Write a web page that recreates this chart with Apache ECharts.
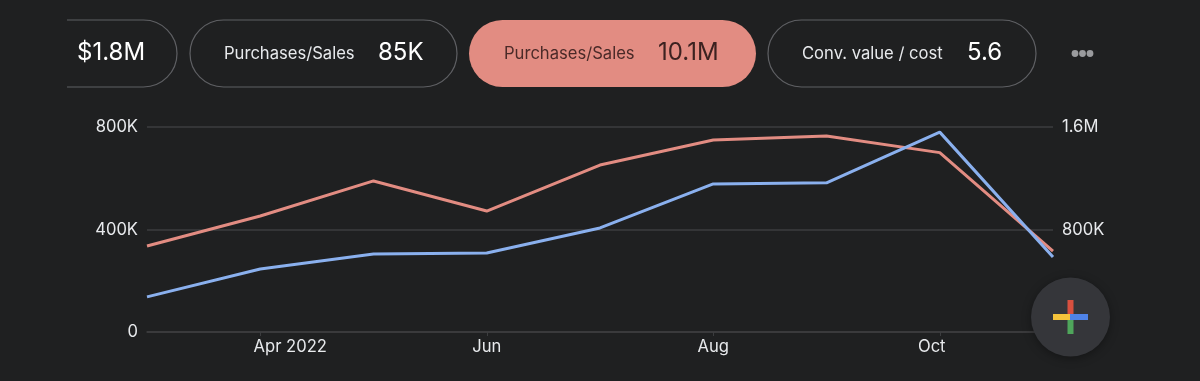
<!DOCTYPE html>
<html><head><meta charset="utf-8">
<style>html,body{margin:0;padding:0;background:#1f2021}#c{width:1200px;height:381px}</style>
<script src="https://cdn.jsdelivr.net/npm/echarts@6/dist/echarts.min.js"></script>
</head><body><div id="c"></div>
<script>
const categories=['Mar 2022','Apr 2022','May','Jun','Jul','Aug','Sep','Oct','Nov'];
const shownMonths=['Apr 2022','Jun','Aug','Oct'];
const leftSeriesBlue=[137000,246000,304000,308000,406000,578000,582000,780000,293000];
const rightSeriesRed=[671000,905000,1179000,944000,1303000,1498000,1530000,1400000,632000];
const leftTicks={0:'0',400000:'400K',800000:'800K'};
const rightTicks={800000:'800K',1600000:'1.6M'};
const chipLabels=['Purchases/Sales','Purchases/Sales','Conv. value / cost'];
const chipValues=['$1.8M','85K','10.1M','5.6'];

const BG='#1f2021',TXT='#e8eaed',BORDER='#5f6064',RED='#e28c82',BLUE='#8ab0ee',GRID='#3c3d3f',FONT='Inter, Roboto, sans-serif',AX=16.6,LB=16.6,VAL=24;
function t(x,y,text,size,fill,align){return {type:'text',x,y,z:10,style:{text,fontSize:size,fill,fontFamily:FONT,align:align||'left',verticalAlign:'middle'}};}
function chip(x,w,filled){return {type:'rect',z:5,shape:{x:x,y:20,width:w,height:67,r:33.5},style:filled?{fill:RED,stroke:null}:{fill:'transparent',stroke:BORDER,lineWidth:1.2}};}
function bar(x,y,w,h,c){return {type:'rect',z:21,shape:{x,y,width:w,height:h},style:{fill:c}};}
const graphic=[
 chip(-60,237,false),
 {type:'rect',z:6,shape:{x:0,y:10,width:67,height:90},style:{fill:BG}},
 chip(190,267,false),chip(469,287,true),chip(768,268,false),
 t(77,53,chipValues[0],VAL,'#ffffff'),
 t(224,54,chipLabels[0],LB,TXT),t(378,53,chipValues[1],VAL,'#ffffff'),
 t(504,54,chipLabels[1],LB,'#4a2a28'),t(658,53,chipValues[2],VAL,'#3c2220'),
 t(802,54,chipLabels[2],LB,TXT),t(967,53,chipValues[3],VAL,'#ffffff'),
 ...[1075,1082.5,1090].map(x=>({type:'circle',z:10,shape:{cx:x,cy:53.5,r:3.4},style:{fill:'#9a9b9e'}})),
 {type:'circle',z:20,shape:{cx:1070.5,cy:317,r:39.5},style:{fill:'#35363a',shadowBlur:10,shadowColor:'rgba(0,0,0,0.35)',shadowOffsetY:2}},
 bar(1067.5,300,6,17,'#d8503f'),bar(1067.5,317,6,17,'#4fa65b'),
 bar(1053,314,17,6,'#f5c33b'),bar(1070,314,18,6,'#4f83e8')
];
const chart=echarts.init(document.getElementById('c'),null,{renderer:'canvas'});
chart.setOption({
 backgroundColor:BG,animation:false,
 grid:{left:147,right:147,top:127,bottom:49,containLabel:false},
 graphic,
 xAxis:{type:'category',data:categories,boundaryGap:false,
  axisLine:{lineStyle:{color:GRID,width:1.5}},
  axisTick:{customValues:shownMonths.map(m=>categories.indexOf(m)),length:4,lineStyle:{color:GRID},alignWithLabel:true},
  axisLabel:{customValues:shownMonths.map(m=>categories.indexOf(m)),color:TXT,fontSize:AX,fontFamily:FONT,margin:6,
   formatter:v=>v==='Apr 2022'?'{a|'+v+'}':v==='Oct'?'{b|'+v+'}':v,
   rich:{a:{padding:[0,0,0,60],fontSize:AX,color:TXT,fontFamily:FONT},b:{padding:[0,16,0,0],fontSize:AX,color:TXT,fontFamily:FONT}}},
  splitLine:{show:false}},
 yAxis:[
  {type:'value',min:0,max:800000,interval:400000,axisLine:{show:false},axisTick:{show:false},
   axisLabel:{color:TXT,fontSize:AX,fontFamily:FONT,margin:9,padding:[2,0,0,0],formatter:v=>leftTicks[v]},
   splitLine:{lineStyle:{color:GRID,width:1.5}}},
  {type:'value',min:0,max:1600000,interval:800000,position:'right',axisLine:{show:false},axisTick:{show:false},
   axisLabel:{color:TXT,fontSize:AX,fontFamily:FONT,margin:9,padding:[2,0,0,0],formatter:v=>rightTicks[v]||''},
   splitLine:{show:false}}
 ],
 series:[
  {type:'line',name:'Red',yAxisIndex:1,data:rightSeriesRed,showSymbol:false,lineStyle:{color:RED,width:3},itemStyle:{color:RED},z:2},
  {type:'line',name:'Blue',yAxisIndex:0,data:leftSeriesBlue,showSymbol:false,lineStyle:{color:BLUE,width:3},itemStyle:{color:BLUE},z:3}
 ]
});
</script></body></html>
